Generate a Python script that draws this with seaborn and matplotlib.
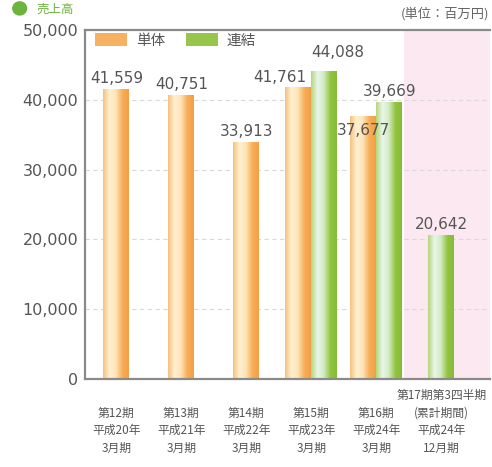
import numpy as np
import pandas as pd
import seaborn as sns
import matplotlib.pyplot as plt
from matplotlib.colors import LinearSegmentedColormap

# data (百万円)
tick_labels = [
    '\n第12期\n平成20年\n3月期',
    '\n第13期\n平成21年\n3月期',
    '\n第14期\n平成22年\n3月期',
    '\n第15期\n平成23年\n3月期',
    '\n第16期\n平成24年\n3月期',
    '第17期第3四半期\n(累計期間)\n平成24年\n12月期',
]
single = [41559, 40751, 33913, 41761, 37677, np.nan]
consolidated = [np.nan, np.nan, np.nan, 44088, 39669, 20642]
series_names = ['単体', '連結']

# long table, pairs side by side only where both series exist
rows = []
for i, (s, c) in enumerate(zip(single, consolidated)):
    both = not (np.isnan(s) or np.isnan(c))
    off = 0.2 if both else 0.0
    if not np.isnan(s):
        rows.append({'pos': i - off, 'value': s, 'kind': '単体', 'group': i})
    if not np.isnan(c):
        rows.append({'pos': i + off, 'value': c, 'kind': '連結', 'group': i})
df = pd.DataFrame(rows)

sns.set_theme(style='white')
plt.rcParams['font.family'] = ['DejaVu Sans', 'Noto Sans CJK JP']
cjk = ['Noto Sans CJK JP', 'DejaVu Sans']

fig = plt.figure(figsize=(4.92, 4.67), dpi=100)
ax = fig.add_axes([0.173, 0.188, 0.823, 0.748])

palette = {'単体': '#F6B162', '連結': '#97C64A'}
sns.barplot(data=df, x='pos', y='value', hue='kind', hue_order=series_names,
            palette=palette, native_scale=True, width=1.0, dodge=False,
            errorbar=None, ax=ax, linewidth=0, saturation=1)
bars = list(ax.patches)

# cylinder-like shading on each bar
grad = np.linspace(0, 1, 64).reshape(1, -1)
cmaps = {
    '#F6B162': LinearSegmentedColormap.from_list(
        'o', ['#F5C27C', '#FFF1D2', '#FEE3B6', '#F7AE58', '#F39F45']),
    '#97C64A': LinearSegmentedColormap.from_list(
        'g', ['#B5D77A', '#E9F6EC', '#D2EBC0', '#92C540', '#86BC38']),
}
for p in bars:
    if p.get_height() <= 0:
        continue
    fc = '#%02X%02X%02X' % tuple(int(round(v * 255)) for v in p.get_facecolor()[:3])
    cm = cmaps.get(fc)
    if cm is None:
        continue
    x0, w, h = p.get_x(), p.get_width(), p.get_height()
    im = ax.imshow(grad, extent=[x0, x0 + w, 0, h], aspect='auto', cmap=cm,
                   origin='lower', zorder=p.get_zorder() + 0.1)
    im.set_clip_path(p)

ax.set_xlim(-0.48, 5.75)
ax.set_ylim(0, 50000)
ax.axvspan(4.42, 5.75, color='#FCE8F0', zorder=0, lw=0)

ax.set_yticks(range(0, 50001, 10000))
ax.set_yticklabels([f'{v:,}' for v in range(0, 50001, 10000)], fontsize=11.5, color='#555555')
ax.set_xticks(range(len(tick_labels)))
ax.set_xticklabels(tick_labels, fontsize=8.5, color='#555555', linespacing=1.45,
                   family=cjk)
ax.tick_params(axis='x', length=0, pad=7)
ax.tick_params(axis='y', length=0, pad=5)
ax.set_xlabel('')
ax.set_ylabel('')

for yv in range(10000, 50000, 10000):
    ax.axhline(yv, color='#d9d9d9', lw=0.8, ls=(0, (4, 3)), zorder=0.5)

for side in ['left', 'bottom', 'top']:
    ax.spines[side].set_color('#8a8a8a')
    ax.spines[side].set_linewidth(1.6)
ax.spines['right'].set_visible(False)

# value labels
nudge = {(3, '単体'): (-0.28, 0), (3, '連結'): (0.2, 1200),
         (4, '単体'): (0, -3600), (4, '連結'): (0, 0)}
for _, r in df.iterrows():
    dx, dy = nudge.get((r['group'], r['kind']), (0, 0))
    ax.text(r['pos'] + dx, r['value'] + 400 + dy, f"{int(r['value']):,}",
            ha='center', va='bottom', fontsize=11, color='#555555', zorder=5)

leg = ax.legend(loc='upper left', frameon=False, ncol=2, fontsize=10.5,
                handlelength=2.2, handleheight=1.0, handletextpad=0.6,
                columnspacing=1.4, bbox_to_anchor=(0.0, 1.02), borderaxespad=0.3)
for t in leg.get_texts():
    t.set_family(cjk)
    t.set_color('#555555')

fig.text(0.995, 0.97, '(単位：百万円)', ha='right', va='center', fontsize=9.5,
         color='#666666', family=cjk)
fig.text(0.075, 0.995, '売上高', ha='left', va='top', fontsize=9,
         color='#6DB33F', family=cjk)
fig.patches.append(plt.Circle((0.04, 0.982), 0.014, transform=fig.transFigure,
                              color='#6DB33F', figure=fig))

fig.savefig('out.png', dpi=100)
